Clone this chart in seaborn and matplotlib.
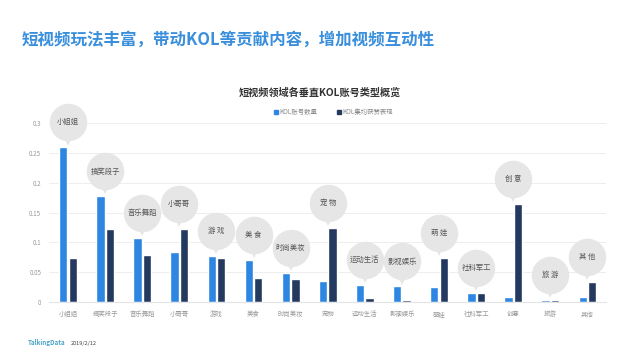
import numpy as np
import pandas as pd
import matplotlib
matplotlib.use("Agg")
import matplotlib.pyplot as plt
import matplotlib.transforms as mtrans
from matplotlib.lines import Line2D
import seaborn as sns

categories = ["小姐姐", "搞笑段子", "音乐舞蹈", "小哥哥", "游戏", "美食", "时尚美妆", "宠物",
              "运动生活", "影视娱乐", "萌娃", "社科军工", "创意", "旅游", "其他"]
bubble_labels = ["小姐姐", "搞笑段子", "音乐舞蹈", "小哥哥", "游 戏", "美 食", "时尚美妆", "宠 物",
                 "运动生活", "影视娱乐", "萌 娃", "社科军工", "创 意", "旅 游", "其 他"]
kol_count = [0.259, 0.177, 0.108, 0.084, 0.077, 0.071, 0.049, 0.0345,
             0.028, 0.026, 0.0255, 0.0155, 0.008, 0.004, 0.008]
kol_likes = [0.073, 0.123, 0.0795, 0.123, 0.0745, 0.041, 0.039, 0.124,
             0.007, 0.004, 0.073, 0.0155, 0.1645, 0.003, 0.033]
series_names = ["KOL账号数量", "KOL集均获赞表现"]
y_ticks = [0, 0.05, 0.1, 0.15, 0.2, 0.25, 0.3]
y_tick_labels = ["0", "0.05", "0.1", "0.15", "0.2", "0.25", "0.3"]

BLUE = "#2d87e2"
NAVY = "#24395f"

sns.set_theme(style="white")
plt.rcParams['font.family'] = ['Noto Sans CJK SC', 'DejaVu Sans']

df = pd.DataFrame({
    "cat": categories * 2,
    "val": kol_count + kol_likes,
    "series": [series_names[0]] * len(categories) + [series_names[1]] * len(categories),
})

fig = plt.figure(figsize=(6.4, 3.6), dpi=100)
fig.patch.set_facecolor("white")
ax = fig.add_axes([0.0773, 1 - 302 / 360, 0.8695, (302 - 123) / 360])

sns.barplot(data=df, x="cat", y="val", hue="series", order=categories,
            hue_order=series_names, palette=[BLUE, NAVY], width=0.51, gap=0.12,
            legend=False, ax=ax, saturation=1)

ax.set_xlim(-0.5, 14.5)
ax.set_ylim(0, 0.3)
ax.set_yticks(y_ticks)
ax.set_yticklabels(y_tick_labels, fontsize=4.5, color="#999999")
ax.set_xticks(range(len(categories)))
ax.set_xticklabels(categories, fontsize=4.6, color="#999999")
ax.tick_params(axis="both", length=0, pad=6)
ax.set_xlabel("")
ax.set_ylabel("")
for s in ["top", "right", "left"]:
    ax.spines[s].set_visible(False)
ax.spines["bottom"].set_color("#e4e4e4")
ax.spines["bottom"].set_linewidth(0.8)
ax.yaxis.grid(True, color="#eeeeee", linewidth=0.7)
ax.set_axisbelow(True)

# speech bubbles
circle_tr = mtrans.offset_copy(ax.transData, fig=fig, x=0, y=18, units="points")
tail_tr = mtrans.offset_copy(ax.transData, fig=fig, x=0, y=5, units="points")
for i, lab in enumerate(bubble_labels):
    top = max(kol_count[i], kol_likes[i])
    ax.plot([i], [top], marker="v", markersize=7, color="#e6e6e6",
            transform=tail_tr, clip_on=False, zorder=4, markeredgewidth=0)
    ax.plot([i], [top], marker="o", markersize=27, color="#e6e6e6",
            transform=circle_tr, clip_on=False, zorder=5, markeredgewidth=0)
    ax.text(i, top, lab, transform=circle_tr, ha="center", va="center",
            fontsize=5.3, color="#555555", zorder=6, clip_on=False)

fig.text(22 / 640, 1 - 40 / 360, "短视频玩法丰富，带动KOL等贡献内容，增加视频互动性",
         fontsize=11.9, fontweight="bold", color="#3a8fdc", ha="left", va="center")
fig.text(320 / 640, 1 - 93 / 360, "短视频领域各垂直KOL账号类型概览",
         fontsize=7.3, fontweight="bold", color="#333333", ha="center", va="center")

handles = [Line2D([], [], marker="s", linestyle="", color=BLUE, markersize=3),
           Line2D([], [], marker="s", linestyle="", color=NAVY, markersize=3)]
fig.legend(handles, series_names, loc="center", bbox_to_anchor=(333 / 640, 1 - 112 / 360),
           ncol=2, frameon=False, fontsize=4.6, labelcolor="#888888",
           handletextpad=0.1, columnspacing=3.0, handlelength=0.8)

fig.text(28 / 640, 1 - 343 / 360, "TalkingData", fontsize=4.5, fontweight="bold",
         color="#4aa3c8", ha="left", va="center")
fig.text(71 / 640, 1 - 343 / 360, "2019/2/12", fontsize=4.0, color="#444444",
         ha="left", va="center")

fig.savefig("out.png", dpi=100, facecolor="white")
